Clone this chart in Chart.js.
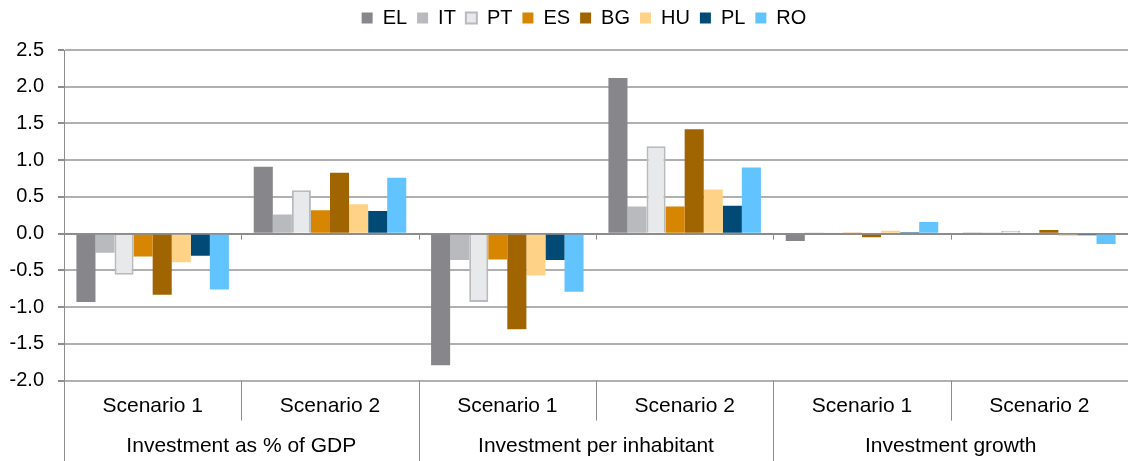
<!DOCTYPE html>
<html lang="en">
  <head>
    <meta charset="UTF-8" />
    <title>Investment scenarios</title>
    <script src="https://cdn.jsdelivr.net/npm/chart.js"></script>
    <style>
      body {
        margin: 0;
        background: #fff;
      }
      #wrap {
        width: 1128px;
        height: 461px;
      }
    </style>
  </head>
  <body>
    <div id="wrap"><canvas id="chart"></canvas></div>
    <script>
      // categories
      const scenarios = ["Scenario 1", "Scenario 2", "Scenario 1", "Scenario 2", "Scenario 1", "Scenario 2"];
      const groups = ["Investment as % of GDP", "Investment per inhabitant", "Investment growth"];
      const countries = ["EL", "IT", "PT", "ES", "BG", "HU", "PL", "RO"];

      // series values (one per scenario column)
      const EL = [-0.93, 0.91, -1.79, 2.12, -0.10, 0.01];
      const IT = [-0.26, 0.26, -0.36, 0.37, 0.01, 0.01];
      const PT = [-0.56, 0.59, -0.93, 1.19, 0.01, 0.04];
      const ES = [-0.31, 0.32, -0.35, 0.37, 0.005, 0.0];
      const BG = [-0.83, 0.83, -1.30, 1.42, -0.05, 0.05];
      const HU = [-0.39, 0.40, -0.57, 0.60, 0.04, -0.03];
      const PL = [-0.30, 0.31, -0.36, 0.38, 0.02, -0.02];
      const RO = [-0.76, 0.76, -0.79, 0.90, 0.16, -0.14];

      const yTicks = [-2.0, -1.5, -1.0, -0.5, 0.0, 0.5, 1.0, 1.5, 2.0, 2.5];

      const seriesData = [EL, IT, PT, ES, BG, HU, PL, RO];
      const fills = ["#87868b", "#b9babe", "#e8e9eb", "#d68600", "#a06400", "#fed388", "#004a75", "#62c4ff"];
      const borders = ["#87868b", "#b9babe", "#b9babe", "#d68600", "#a06400", "#fed388", "#004a75", "#62c4ff"];

      const font = { family: "Liberation Sans", size: 20, lineHeight: 1.2 };
      const xFont = { family: "Liberation Sans", size: 21, lineHeight: 1.2 };

      // room under the legend, and nudge it a little right and up
      const legendGap = {
        id: "legendGap",
        beforeInit(chart) {
          const fit = chart.legend.fit;
          chart.legend.fit = function () {
            fit.bind(chart.legend)();
            this.height += 10;
          };
        },
        afterLayout(chart) {
          chart.legend.left += 40;
          chart.legend.top -= 2;
        },
      };

      // separators below the axis, and small ticks on the zero line
      const separators = {
        id: "separators",
        afterDraw(chart) {
          const { ctx, chartArea } = chart;
          const y = chart.scales.y;
          const step = (chartArea.right - chartArea.left) / scenarios.length;
          const zero = y.getPixelForValue(0);
          ctx.save();
          ctx.strokeStyle = "#8c8c8c";
          ctx.lineWidth = 1;
          for (let i = 0; i <= scenarios.length; i++) {
            const px = Math.round(chartArea.left + i * step) + 0.5;
            const end = i % 2 === 0 ? chart.height : chartArea.bottom + 40;
            ctx.beginPath();
            ctx.moveTo(px, chartArea.bottom);
            ctx.lineTo(px, end);
            ctx.stroke();
            if (i > 0) {
              ctx.beginPath();
              ctx.moveTo(px, zero);
              ctx.lineTo(px, zero + 6);
              ctx.stroke();
            }
          }
          ctx.restore();
        },
      };

      new Chart(document.getElementById("chart"), {
        type: "bar",
        data: {
          labels: scenarios,
          datasets: countries.map((c, i) => ({
            label: c,
            data: seriesData[i],
            backgroundColor: fills[i],
            borderColor: borders[i],
            borderWidth: i === 2 ? 2 : 0,
            categoryPercentage: 0.86,
            barPercentage: 1.0,
          })),
        },
        plugins: [legendGap, separators],
        options: {
          responsive: true,
          maintainAspectRatio: false,
          animation: false,
          layout: { padding: { left: 0, right: 0, top: 0, bottom: 0 } },
          plugins: {
            tooltip: { enabled: false },
            legend: {
              position: "top",
              labels: {
                font: font,
                color: "#000",
                boxWidth: 11,
                boxHeight: 11,
                padding: 10,
                generateLabels(chart) {
                  return chart.data.datasets.map((ds, i) => ({
                    text: ds.label,
                    fillStyle: fills[i],
                    strokeStyle: borders[i],
                    lineWidth: i === 2 ? 2 : 0,
                    datasetIndex: i,
                  }));
                },
              },
            },
          },
          scales: {
            x: {
              offset: true,
              grid: { display: false, drawTicks: false },
              border: { display: false },
              ticks: {
                font: xFont,
                color: "#000",
                padding: 13,
              },
            },
            x2: {
              type: "category",
              position: "bottom",
              labels: groups,
              offset: true,
              grid: { display: false, drawTicks: false },
              border: { display: false },
              ticks: {
                font: xFont,
                color: "#000",
                padding: 2,
              },
            },
            y: {
              min: -2,
              max: 2.5,
              afterBuildTicks(scale) {
                scale.ticks = yTicks.map((v) => ({ value: v }));
              },
              afterFit(scale) {
                scale.width = 64;
              },
              ticks: {
                font: font,
                color: "#000",
                padding: 14,
                callback: (v) => Number(v).toFixed(1),
              },
              grid: {
                color: (c) => (c.tick && c.tick.value === 0 ? "#8c8c8c" : "#b0b0b0"),
                lineWidth: 2,
                tickLength: 6,
                tickColor: "#8c8c8c",
              },
              border: { color: "#8c8c8c", width: 1 },
            },
          },
        },
      });
    </script>
  </body>
</html>
